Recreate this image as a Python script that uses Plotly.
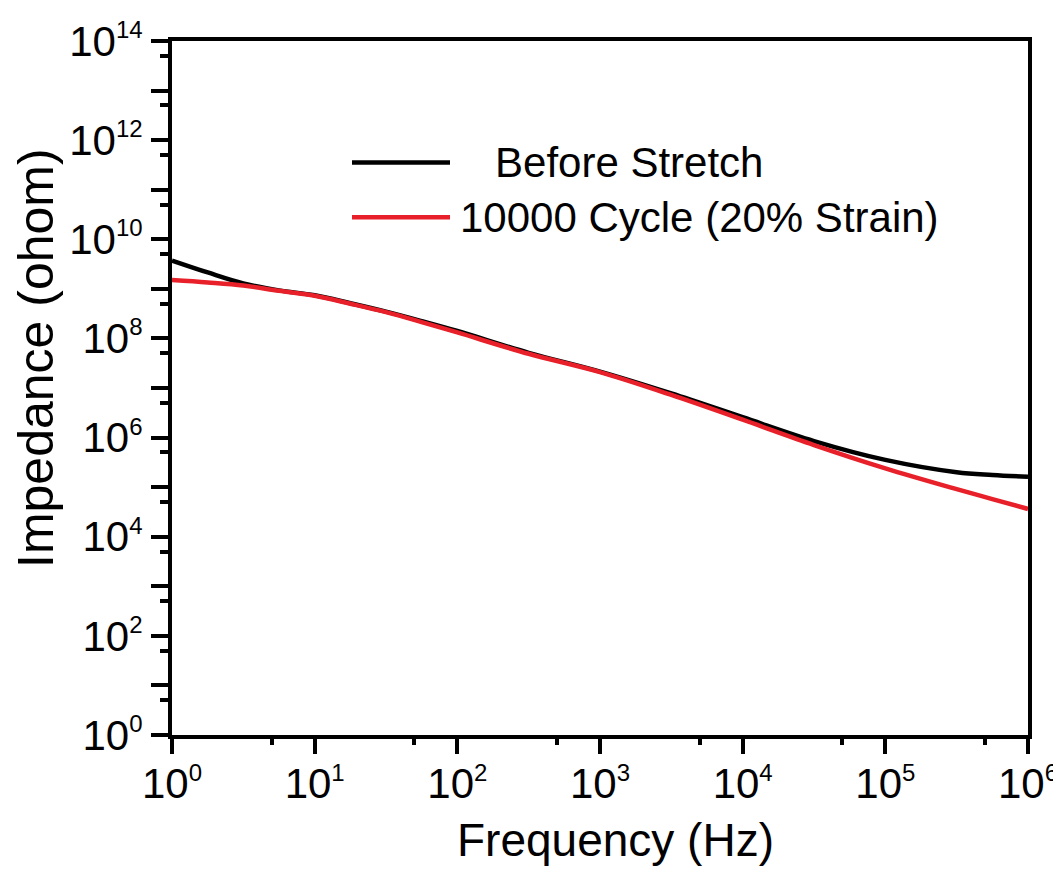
import plotly.graph_objects as go

# Data
frequency_hz = [1, 1.78, 3.16, 5.62, 10, 17.8, 31.6, 56.2, 100, 316, 1000, 3162,
                1e4, 31623, 1e5, 316228, 562341, 1e6]
before_stretch = [3.72e9, 2.14e9, 1.29e9, 9.33e8, 7.41e8, 5.13e8, 3.47e8, 2.24e8, 1.41e8,
                  5.13e7, 2.14e7, 7.76e6, 2.57e6, 8.51e5, 3.55e5, 2.0e5, 1.76e5, 1.62e5]
after_cycles = [1.51e9, 1.35e9, 1.17e9, 9.12e8, 7.24e8, 5.01e8, 3.39e8, 2.14e8, 1.32e8,
                4.90e7, 2.09e7, 7.24e6, 2.29e6, 7.08e5, 2.40e5, 9.12e4, 5.75e4, 3.63e4]
series_names = ["Before Stretch", "10000 Cycle (20% Strain)"]
series_colors = ["#000000", "#e8202a"]

x_exponents = list(range(0, 7))
y_exponents = list(range(0, 15))
SUP = "10<sup><span style='font-size:24px'>%d</span></sup>"
x_tickvals = [10 ** k for k in x_exponents]
x_ticktext = [SUP % k for k in x_exponents]
y_tickvals = [10 ** k for k in y_exponents]
y_ticktext = [(SUP % k) if k % 2 == 0 else "" for k in y_exponents]
x_minor = [5 * 10 ** k for k in range(0, 6)]
y_minor = [5 * 10 ** k for k in range(0, 14)]

FONT = "Liberation Sans, Arial, sans-serif"

fig = go.Figure()
for name, vals, col in zip(series_names, [before_stretch, after_cycles], series_colors):
    fig.add_trace(go.Scatter(x=frequency_hz, y=vals, mode="lines", name=name,
                             line=dict(color=col, width=4.5, shape="spline", smoothing=1.0),
                             showlegend=False))
# helper (invisible) trace so the minor-tick overlay axes render
fig.add_trace(go.Scatter(x=[frequency_hz[0]], y=[before_stretch[0]], xaxis="x2", yaxis="y2",
                         mode="markers", marker=dict(opacity=0), showlegend=False,
                         hoverinfo="skip"))

axis_common = dict(type="log", showline=True, linecolor="black", linewidth=4, mirror=True,
                   ticks="outside", tickcolor="black", tickwidth=4, showgrid=False, zeroline=False,
                   automargin=False,
                   tickfont=dict(family=FONT, size=42, color="black"))

fig.update_layout(
    xaxis=dict(range=[0, 6], tickmode="array", tickvals=x_tickvals, ticktext=x_ticktext,
               ticklen=15, ticklabelstandoff=-6, **axis_common),
    yaxis=dict(range=[0, 14], tickmode="array", tickvals=y_tickvals, ticktext=y_ticktext,
               ticklen=17, **axis_common),
    xaxis2=dict(type="log", range=[0, 6], overlaying="x", anchor="y", side="bottom",
                tickmode="array", tickvals=x_minor, ticks="outside", ticklen=9, tickwidth=4,
                tickcolor="black", showticklabels=False, showline=False, showgrid=False,
                zeroline=False, automargin=False),
    yaxis2=dict(type="log", range=[0, 14], overlaying="y", anchor="x", side="left",
                tickmode="array", tickvals=y_minor, ticks="outside", ticklen=11, tickwidth=4,
                tickcolor="black", showticklabels=False, showline=False, showgrid=False,
                zeroline=False, automargin=False),
)

# Legend drawn as line samples + labels
legend_rows = [(0.825, "   " + series_names[0]), (0.746, series_names[1])]
for (yp, label), col in zip(legend_rows, series_colors):
    fig.add_shape(type="line", xref="paper", yref="paper", x0=(352 - 172) / 856, x1=(450 - 172) / 856,
                  y0=yp, y1=yp, line=dict(color=col, width=4.5))
    fig.add_annotation(xref="paper", yref="paper", x=(458 - 172) / 856, y=yp, text=label,
                       showarrow=False, xanchor="left", yanchor="middle",
                       font=dict(family=FONT, size=42, color="black"))

fig.add_annotation(xref="paper", yref="paper", x=(615 - 172) / 856, y=(735 - 840) / 694,
                   text="Frequency (Hz)", showarrow=False, xanchor="center", yanchor="middle",
                   font=dict(family=FONT, size=46, color="black"))
fig.add_annotation(xref="paper", yref="paper", x=(36 - 172) / 856, y=(735 - 358) / 694,
                   text="Impedance (ohom)", showarrow=False, xanchor="center", yanchor="middle",
                   textangle=-90, font=dict(family=FONT, size=50, color="black"))

# the page body adds an 8px offset; margins compensate so the plot area sits at 172..1028 x 41..735
fig.update_layout(width=1053, height=866, margin=dict(l=164, r=33, t=33, b=139, autoexpand=False),
                  plot_bgcolor="white", paper_bgcolor="white", showlegend=False)

fig.write_html("out.html")
